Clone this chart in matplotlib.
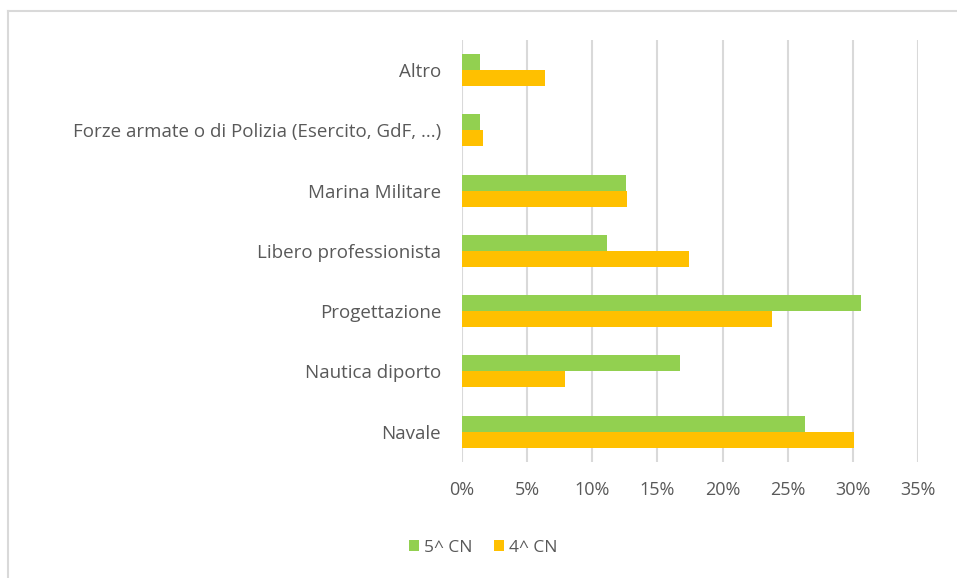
import numpy as np
import matplotlib.pyplot as plt
from matplotlib.lines import Line2D

# Categories listed bottom to top, as in the original chart
categories = ['Navale', 'Nautica diporto', 'Progettazione', 'Libero professionista',
              'Marina Militare', 'Forze armate o di Polizia (Esercito, GdF, ...)', 'Altro']
cn5 = [26.3, 16.7, 30.6, 11.1, 12.6, 1.4, 1.4]   # 5^ CN, percent
cn4 = [30.1, 7.9, 23.8, 17.4, 12.7, 1.6, 6.4]    # 4^ CN, percent
xticks = [0, 5, 10, 15, 20, 25, 30, 35]

plt.rcParams['font.family'] = ['Open Sans', 'DejaVu Sans']
text_col = '#595959'
grid_col = '#d9d9d9'

fig = plt.figure(figsize=(9.57, 5.78), dpi=100)
ax = fig.add_axes([0.4828, 0.201, 0.4764, 0.730])

y = np.arange(len(categories))
h = 0.265
ax.barh(y + h / 2, cn5, height=h, color='#92D050', label='5^ CN')
ax.barh(y - h / 2, cn4, height=h, color='#FFC000', label='4^ CN')

ax.set_xlim(0, 35)
ax.set_ylim(-0.5, len(categories) - 0.5)
ax.set_xticks(xticks)
ax.set_xticklabels([f'{t}%' for t in xticks])
ax.set_yticks(y)
ax.set_yticklabels(categories)
ax.tick_params(length=0, labelcolor=text_col)
ax.tick_params(axis='y', pad=15, labelsize=13.5)
ax.tick_params(axis='x', pad=14, labelsize=13)
ax.xaxis.grid(True, color=grid_col, linewidth=1.5)
ax.set_axisbelow(True)
for s in ax.spines.values():
    s.set_visible(False)

leg = fig.legend(loc='center', bbox_to_anchor=(0.505, 1 - 548 / 578), ncol=2,
                 frameon=False, fontsize=12.5, handlelength=0.6, handleheight=0.6,
                 handletextpad=0.3, columnspacing=1.2)
for t in leg.get_texts():
    t.set_color(text_col)

# light border of the chart area (left and top edges)
fig.add_artist(Line2D([8 / 957, 8 / 957], [0, 1 - 11 / 578], transform=fig.transFigure,
                      color=grid_col, linewidth=1.5))
fig.add_artist(Line2D([8 / 957, 1], [1 - 11 / 578, 1 - 11 / 578], transform=fig.transFigure,
                      color=grid_col, linewidth=1.5))

fig.savefig('out.png', dpi=100)
